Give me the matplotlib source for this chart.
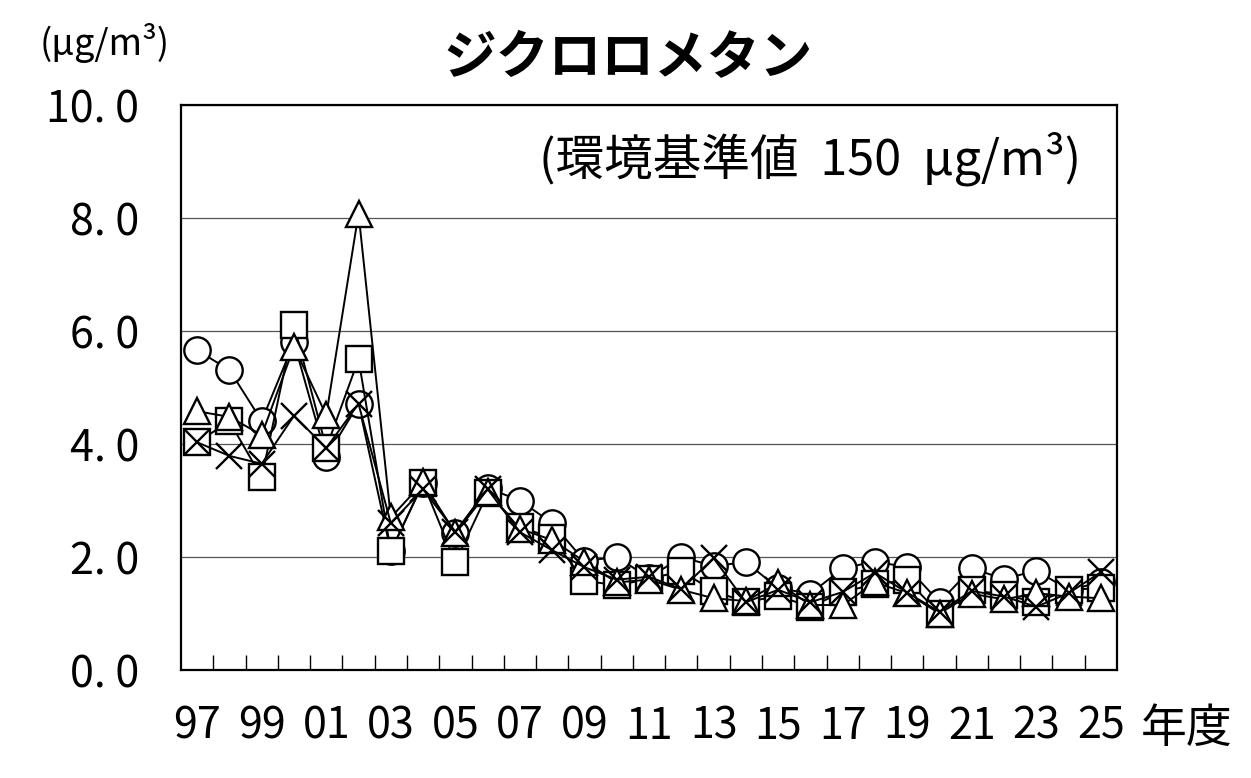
import matplotlib
matplotlib.use('Agg')
import matplotlib.pyplot as plt

years = list(range(1997, 2026))
year_labels = ['97', '99', '01', '03', '05', '07', '09', '11', '13', '15',
               '17', '19', '21', '23', '25']
y_ticks = [0, 2, 4, 6, 8, 10]

circle_vals = [5.66, 5.31, 4.41, 5.80, 3.77, 4.71, 2.10, 3.31, 2.42, 3.22,
               3.00, 2.60, 1.93, 2.00, 1.63, 2.00, 1.84, 1.91, 1.45, 1.35,
               1.80, 1.92, 1.82, 1.20, 1.80, 1.61, 1.76, 1.42, 1.55]
triangle_vals = [4.58, 4.48, 4.16, 5.72, 4.51, 8.08, 2.70, 3.32, 2.42, 3.15,
                 2.50, 2.30, 1.92, 1.55, 1.60, 1.42, 1.27, 1.22, 1.54, 1.15,
                 1.15, 1.55, 1.36, 1.00, 1.35, 1.25, 1.36, 1.30, 1.27]
square_vals = [4.03, 4.40, 3.41, 6.10, 3.93, 5.50, 2.10, 3.31, 1.91, 3.13,
               2.54, 2.33, 1.58, 1.50, 1.61, 1.75, 1.40, 1.20, 1.31, 1.12,
               1.38, 1.52, 1.59, 1.00, 1.42, 1.33, 1.20, 1.42, 1.45]
cross_vals = [4.03, 3.79, 3.65, 4.50, 3.93, 4.71, 2.60, 3.20, 2.45, 3.20,
              2.44, 2.12, 1.82, 1.60, 1.65, 1.43, 1.98, 1.20, 1.42, 1.20,
              1.38, 1.72, 1.37, 1.03, 1.40, 1.30, 1.12, 1.36, 1.73]

plt.rcParams['font.family'] = ['Noto Sans CJK JP', 'DejaVu Sans']

fig = plt.figure(figsize=(12.51, 7.78), dpi=100)
ax = fig.add_axes([0.1447, 0.1388, 0.7482, 0.7262])

x = list(range(len(years)))
style = dict(color='black', linewidth=1.4, markersize=19, markeredgewidth=1.7,
             markerfacecolor='white', markeredgecolor='black')
ax.plot(x, circle_vals, marker='o', zorder=3, **style)
ax.plot(x, square_vals, marker='s', zorder=4, **style)
ax.plot(x, triangle_vals, marker='^', zorder=5, **style)
ax.plot(x, cross_vals, marker='x', zorder=6, **style)

ax.set_xlim(-0.5, len(years) - 0.5)
ax.set_ylim(0, 10)

# y labels in the "10. 0" style of the original
ax.set_yticks(y_ticks)
ax.set_yticklabels([('%.1f' % v).replace('.', '. ') for v in y_ticks])
ax.tick_params(axis='y', length=0, pad=30, labelsize=31)

ax.set_xticks(x[::2])
ax.set_xticklabels(year_labels)
ax.set_xticks([i + 0.5 for i in range(len(years) - 1)], minor=True)
ax.tick_params(axis='x', which='major', length=0, pad=25, labelsize=31)
ax.tick_params(axis='x', which='minor', direction='in', length=11, width=1)

ax.grid(axis='y', color='#555555', linewidth=0.9)
ax.set_axisbelow(True)
for sp in ax.spines.values():
    sp.set_linewidth(1.6)

fig.text(0.502, 0.925, 'ジクロロメタン', ha='center', va='center',
         fontsize=38, fontweight='bold')
fig.text(0.032, 0.945, '(μg/m³)', ha='left', va='center', fontsize=26)
ax.text(0.962, 0.905, '(環境基準値  150  μg/m³)', transform=ax.transAxes,
        ha='right', va='center', fontsize=35)
fig.text(0.912, 0.063, '年度', ha='left', va='center', fontsize=33)

fig.savefig('out.png', dpi=100)
